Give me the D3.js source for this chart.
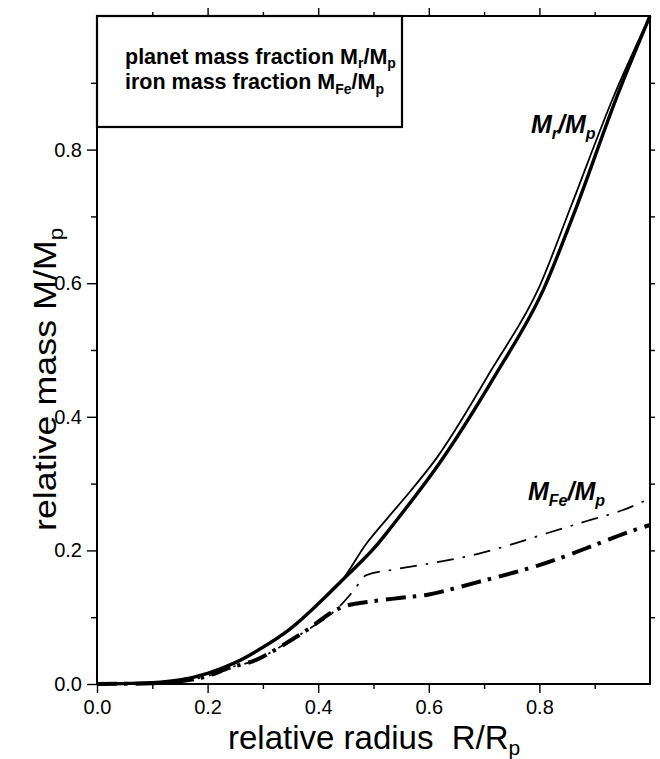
<!DOCTYPE html>
<html lang="en">
<head>
  <meta charset="UTF-8">
  <title>Relative mass vs relative radius</title>
  <script src="https://d3js.org/d3.v7.min.js"></script>
  <style>
    body { margin: 0; background: #fff; }
    text { font-family: "Liberation Sans", Arial, Helvetica, sans-serif; fill: #000; }
    .tick-label { font-size: 20px; }
    .title { font-size: 31px; }
    .legend-text { font-size: 21.5px; font-weight: bold; }
    .curve-label { font-size: 25px; font-weight: bold; font-style: italic; }
  </style>
</head>
<body>
  <div id="chart"></div>

  <script>
    // planet mass fraction Mr/Mp, thick solid line
    const massThick = [
      [0, 0], [0.1, 0.002], [0.15, 0.006], [0.2, 0.016], [0.25, 0.032],
      [0.3, 0.055], [0.35, 0.083], [0.4, 0.12], [0.443, 0.155], [0.505, 0.207],
      [0.534, 0.237], [0.623, 0.335], [0.72, 0.462], [0.807, 0.59], [0.867, 0.714],
      [0.94, 0.879], [1.0, 1.0]
    ];
    // planet mass fraction Mr/Mp, thin solid line (kinked near 0.49)
    const massThin = [
      [0, 0], [0.1, 0.002], [0.15, 0.006], [0.2, 0.016], [0.25, 0.032],
      [0.3, 0.055], [0.35, 0.083], [0.4, 0.12], [0.443, 0.155], [0.487, 0.21],
      [0.525, 0.248], [0.565, 0.287], [0.613, 0.337], [0.713, 0.47], [0.80, 0.595],
      [0.858, 0.717], [0.935, 0.881], [1.0, 1.0]
    ];
    // iron mass fraction MFe/Mp, thin dash-dot
    const ironThin = [
      [0, 0], [0.1, 0.001], [0.15, 0.004], [0.2, 0.012], [0.239, 0.024],
      [0.288, 0.036], [0.33, 0.055], [0.371, 0.076], [0.443, 0.12], [0.465, 0.141],
      [0.487, 0.163], [0.534, 0.171], [0.606, 0.181], [0.68, 0.193], [0.746, 0.208],
      [0.815, 0.226], [0.89, 0.245], [0.95, 0.26], [1.0, 0.278]
    ];
    // iron mass fraction MFe/Mp, thick dash-dot
    const ironThick = [
      [0, 0], [0.1, 0.001], [0.15, 0.004], [0.2, 0.012], [0.239, 0.024],
      [0.288, 0.036], [0.33, 0.055], [0.371, 0.076], [0.443, 0.115], [0.5, 0.124],
      [0.55, 0.129], [0.6, 0.134], [0.65, 0.144], [0.7, 0.155], [0.75, 0.166],
      [0.8, 0.178], [0.9, 0.208], [0.963, 0.228], [1.0, 0.238]
    ];
    const majorTicks = [0, 0.2, 0.4, 0.6, 0.8];
    const minorTicks = [0.1, 0.3, 0.5, 0.7, 0.9];

    const W = 660, H = 759;
    const m = { left: 97, right: 650, top: 16, bottom: 684 };

    const svg = d3.select("#chart")
      .append("svg")
      .attr("width", W)
      .attr("height", H);

    const x = d3.scaleLinear().domain([0, 1]).range([m.left, m.right]);
    const y = d3.scaleLinear().domain([0, 1]).range([m.bottom, m.top]);

    const fmt = d3.format(".1f");

    // bottom axis
    svg.append("g").attr("transform", `translate(0,${m.bottom})`)
      .call(d3.axisBottom(x).tickValues(majorTicks).tickFormat(fmt).tickSize(9).tickPadding(7))
      .call(g => g.select(".domain").remove());
    svg.append("g").attr("transform", `translate(0,${m.bottom})`)
      .call(d3.axisBottom(x).tickValues(minorTicks).tickFormat("").tickSize(5))
      .call(g => g.select(".domain").remove());

    // left axis
    svg.append("g").attr("transform", `translate(${m.left},0)`)
      .call(d3.axisLeft(y).tickValues(majorTicks).tickFormat(fmt).tickSize(10).tickPadding(5))
      .call(g => g.select(".domain").remove());
    svg.append("g").attr("transform", `translate(${m.left},0)`)
      .call(d3.axisLeft(y).tickValues(minorTicks).tickFormat("").tickSize(6))
      .call(g => g.select(".domain").remove());

    // top axis (ticks only)
    svg.append("g").attr("transform", `translate(0,${m.top})`)
      .call(d3.axisTop(x).tickValues(majorTicks.slice(1)).tickFormat("").tickSize(8))
      .call(g => g.select(".domain").remove());
    svg.append("g").attr("transform", `translate(0,${m.top})`)
      .call(d3.axisTop(x).tickValues(minorTicks).tickFormat("").tickSize(4))
      .call(g => g.select(".domain").remove());

    // right axis (ticks only)
    svg.append("g").attr("transform", `translate(${m.right},0)`)
      .call(d3.axisRight(y).tickValues(majorTicks.slice(1)).tickFormat("").tickSize(5))
      .call(g => g.select(".domain").remove());
    svg.append("g").attr("transform", `translate(${m.right},0)`)
      .call(d3.axisRight(y).tickValues(minorTicks).tickFormat("").tickSize(5))
      .call(g => g.select(".domain").remove());

    svg.selectAll(".tick line").attr("stroke", "#000").attr("stroke-width", 1.4);
    svg.selectAll(".tick text").attr("class", "tick-label").attr("fill", "#000");
    svg.selectAll("g").attr("font-family", null).attr("font-size", null);

    // frame
    svg.append("rect")
      .attr("x", m.left).attr("y", m.top)
      .attr("width", m.right - m.left).attr("height", m.bottom - m.top)
      .attr("fill", "none").attr("stroke", "#000").attr("stroke-width", 2);

    // legend box
    svg.append("rect")
      .attr("x", m.left).attr("y", m.top)
      .attr("width", 305).attr("height", 111)
      .attr("fill", "#fff").attr("stroke", "#000").attr("stroke-width", 2.2);

    const leg1 = svg.append("text").attr("class", "legend-text").attr("x", 125).attr("y", 64);
    leg1.append("tspan").text("planet mass fraction M");
    leg1.append("tspan").attr("dy", 4).style("font-size", "14px").text("r");
    leg1.append("tspan").attr("dy", -4).text("/M");
    leg1.append("tspan").attr("dy", 4).style("font-size", "14px").text("p");

    const leg2 = svg.append("text").attr("class", "legend-text").attr("x", 125).attr("y", 89);
    leg2.append("tspan").text("iron mass fraction M");
    leg2.append("tspan").attr("dy", 5).style("font-size", "14px").text("Fe");
    leg2.append("tspan").attr("dy", -5).text("/M");
    leg2.append("tspan").attr("dy", 5).style("font-size", "14px").text("p");

    const line = d3.line().x(d => x(d[0])).y(d => y(d[1])).curve(d3.curveMonotoneX);

    svg.append("path").datum(massThin).attr("d", line)
      .attr("fill", "none").attr("stroke", "#000").attr("stroke-width", 1.8);
    svg.append("path").datum(massThick).attr("d", line)
      .attr("fill", "none").attr("stroke", "#000").attr("stroke-width", 3.4);
    svg.append("path").datum(ironThin).attr("d", line)
      .attr("fill", "none").attr("stroke", "#000").attr("stroke-width", 1.7)
      .attr("stroke-dasharray", "17,9,2.5,9");
    svg.append("path").datum(ironThick).attr("d", line)
      .attr("fill", "none").attr("stroke", "#000").attr("stroke-width", 4)
      .attr("stroke-dasharray", "20,7,3.5,8");

    // curve labels
    const lab1 = svg.append("text").attr("class", "curve-label").attr("x", 531).attr("y", 133);
    lab1.append("tspan").text("M");
    lab1.append("tspan").attr("dy", 6).style("font-size", "16px").text("r");
    lab1.append("tspan").attr("dy", -6).text("/M");
    lab1.append("tspan").attr("dy", 6).style("font-size", "16px").text("p");

    const lab2 = svg.append("text").attr("class", "curve-label").attr("x", 528).attr("y", 500);
    lab2.append("tspan").text("M");
    lab2.append("tspan").attr("dy", 6).style("font-size", "16px").text("Fe");
    lab2.append("tspan").attr("dy", -6).text("/M");
    lab2.append("tspan").attr("dy", 6).style("font-size", "16px").text("p");

    // axis titles
    const xt = svg.append("text").attr("class", "title").attr("x", 228).attr("y", 749)
      .style("font-size", "33px");
    xt.append("tspan").text("relative radius\u00a0 R/R");
    xt.append("tspan").attr("dy", 6).style("font-size", "21px").text("p");

    const yt = svg.append("text").attr("class", "title")
      .attr("transform", "translate(56,531) rotate(-90) scale(1.12,1)")
      .style("font-size", "32px");
    yt.append("tspan").text("relative mass M/M");
    yt.append("tspan").attr("dy", 7).style("font-size", "20px").text("p");
  </script>
</body>
</html>
